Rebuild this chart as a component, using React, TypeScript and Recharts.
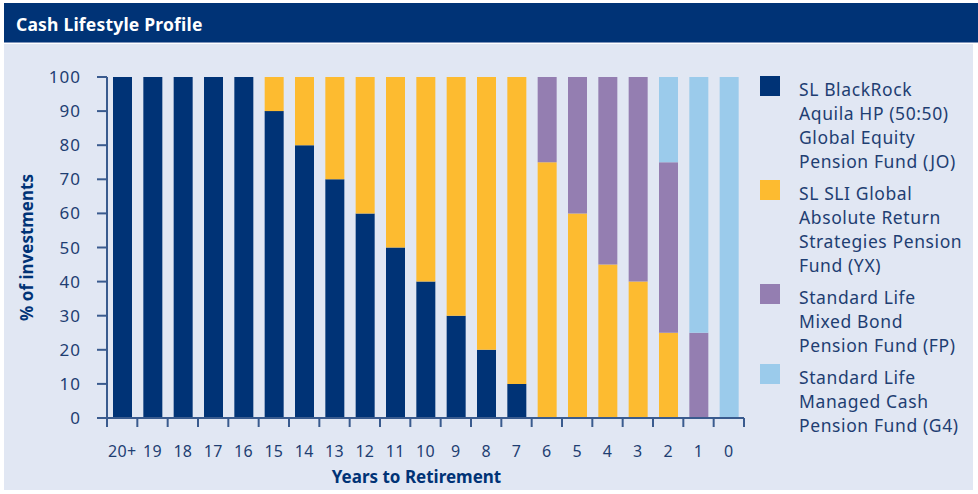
import React from 'react';
import { BarChart, Bar, XAxis, YAxis, Label } from 'recharts';

const years = ['20+', '19', '18', '17', '16', '15', '14', '13', '12', '11', '10', '9', '8', '7', '6', '5', '4', '3', '2', '1', '0'];
const equity = [100, 100, 100, 100, 100, 90, 80, 70, 60, 50, 40, 30, 20, 10, 0, 0, 0, 0, 0, 0, 0];
const absoluteReturn = [0, 0, 0, 0, 0, 10, 20, 30, 40, 50, 60, 70, 80, 90, 75, 60, 45, 40, 25, 0, 0];
const mixedBond = [0, 0, 0, 0, 0, 0, 0, 0, 0, 0, 0, 0, 0, 0, 25, 40, 55, 60, 50, 25, 0];
const managedCash = [0, 0, 0, 0, 0, 0, 0, 0, 0, 0, 0, 0, 0, 0, 0, 0, 0, 0, 25, 75, 100];
const yTicks = [0, 10, 20, 30, 40, 50, 60, 70, 80, 90, 100];

const fundNames = [
  'SL BlackRock\nAquila HP (50:50)\nGlobal Equity\nPension Fund (JO)',
  'SL SLI Global\nAbsolute Return\nStrategies Pension\nFund (YX)',
  'Standard Life\nMixed Bond\nPension Fund (FP)',
  'Standard Life\nManaged Cash\nPension Fund (G4)',
];
const fundKeys = ['equity', 'absoluteReturn', 'mixedBond', 'managedCash'];
const fundColors = ['#003376', '#fdbb30', '#947eb1', '#9bcbeb'];

const data = years.map((year, i) => ({
  year,
  equity: equity[i],
  absoluteReturn: absoluteReturn[i],
  mixedBond: mixedBond[i],
  managedCash: managedCash[i],
}));

const FONT = '"Noto Sans", sans-serif';
const NAVY = '#003376';
const TEXT = '#1e3e72';
const AXIS = '#3a5b8e';

const W = 978;
const H = 494;
const LEFT = 107;
const RIGHT = 234;
const BAND = (W - LEFT - RIGHT) / years.length;

const XTick = (props: any) => {
  const { x, y, payload, index } = props;
  const half = BAND / 2;
  return (
    <g>
      <line x1={x - half} y1={y} x2={x - half} y2={y + 9} stroke={AXIS} strokeWidth={2} />
      {index === years.length - 1 && (
        <line x1={x + half} y1={y} x2={x + half} y2={y + 9} stroke={AXIS} strokeWidth={2} />
      )}
      <text x={x} y={y + 39} textAnchor="middle" fill={TEXT} fontSize={16} fontFamily={FONT} letterSpacing={0.3}>
        {payload.value}
      </text>
    </g>
  );
};

const App: React.FC = () => {
  return (
    <div style={{ position: 'absolute', left: 0, top: 0, width: W, height: H, background: '#ffffff' }}>
      <div style={styles.titleBar}>Cash Lifestyle Profile</div>
      <div style={styles.panel} />
      <div style={{ position: 'absolute', left: 0, top: 0 }}>
        <BarChart
          width={W}
          height={H}
          data={data}
          margin={{ top: 77, right: RIGHT, left: 0, bottom: 0 }}
          barSize={19}
        >
          <XAxis
            dataKey="year"
            height={76}
            tickLine={false}
            tickSize={0}
            tickMargin={0}
            interval={0}
            axisLine={{ stroke: AXIS, strokeWidth: 2 }}
            tick={<XTick />}
          >
            <Label
              value="Years to Retirement"
              position="insideBottom"
              offset={11}
              dx={-9}
              fill={NAVY}
              fontSize={17}
              fontWeight="bold"
              fontFamily={FONT}
            />
          </XAxis>
          <YAxis
            width={LEFT}
            domain={[0, 100]}
            ticks={yTicks}
            interval={0}
            tickSize={10}
            tickMargin={16}
            axisLine={{ stroke: AXIS, strokeWidth: 2 }}
            tickLine={{ stroke: AXIS, strokeWidth: 2 }}
            tick={{ fill: TEXT, fontSize: 17, fontFamily: FONT, letterSpacing: 1 }}
          >
            <Label
              value="% of investments"
              angle={-90}
              position="insideLeft"
              offset={27}
              style={{ textAnchor: 'middle' }}
              fill={NAVY}
              fontSize={17}
              fontWeight="bold"
              fontFamily={FONT}
            />
          </YAxis>
          {fundKeys.map((key, i) => (
            <Bar key={key} dataKey={key} stackId="a" fill={fundColors[i]} isAnimationActive={false} />
          ))}
        </BarChart>
      </div>
      <div style={styles.legend}>
        {fundNames.map((name, i) => (
          <div key={name} style={styles.legendItem}>
            <div style={{ width: 20, height: 20, background: fundColors[i], flexShrink: 0 }} />
            <div style={styles.legendText}>{name}</div>
          </div>
        ))}
      </div>
    </div>
  );
};

const styles: Record<string, React.CSSProperties> = {
  titleBar: {
    position: 'absolute',
    left: 4,
    top: 3,
    width: W - 4,
    height: 40,
    background: NAVY,
    color: '#ffffff',
    fontFamily: FONT,
    fontWeight: 'bold',
    fontSize: 17.5,
    letterSpacing: 0.2,
    lineHeight: '42px',
    paddingLeft: 12,
    boxSizing: 'border-box',
    borderBottom: '1px solid #7f95bb',
  },
  panel: {
    position: 'absolute',
    left: 4,
    top: 44,
    width: 969,
    height: 446,
    background: '#e1e7f3',
  },
  legend: {
    position: 'absolute',
    left: 760,
    top: 76,
    width: 218,
    fontFamily: FONT,
  },
  legendItem: {
    display: 'flex',
    alignItems: 'flex-start',
    marginBottom: 7,
  },
  legendText: {
    marginLeft: 19,
    whiteSpace: 'pre-line',
    color: TEXT,
    fontSize: 17.5,
    letterSpacing: 0.6,
    lineHeight: '24px',
    marginTop: 1,
  },
};

export default App;
